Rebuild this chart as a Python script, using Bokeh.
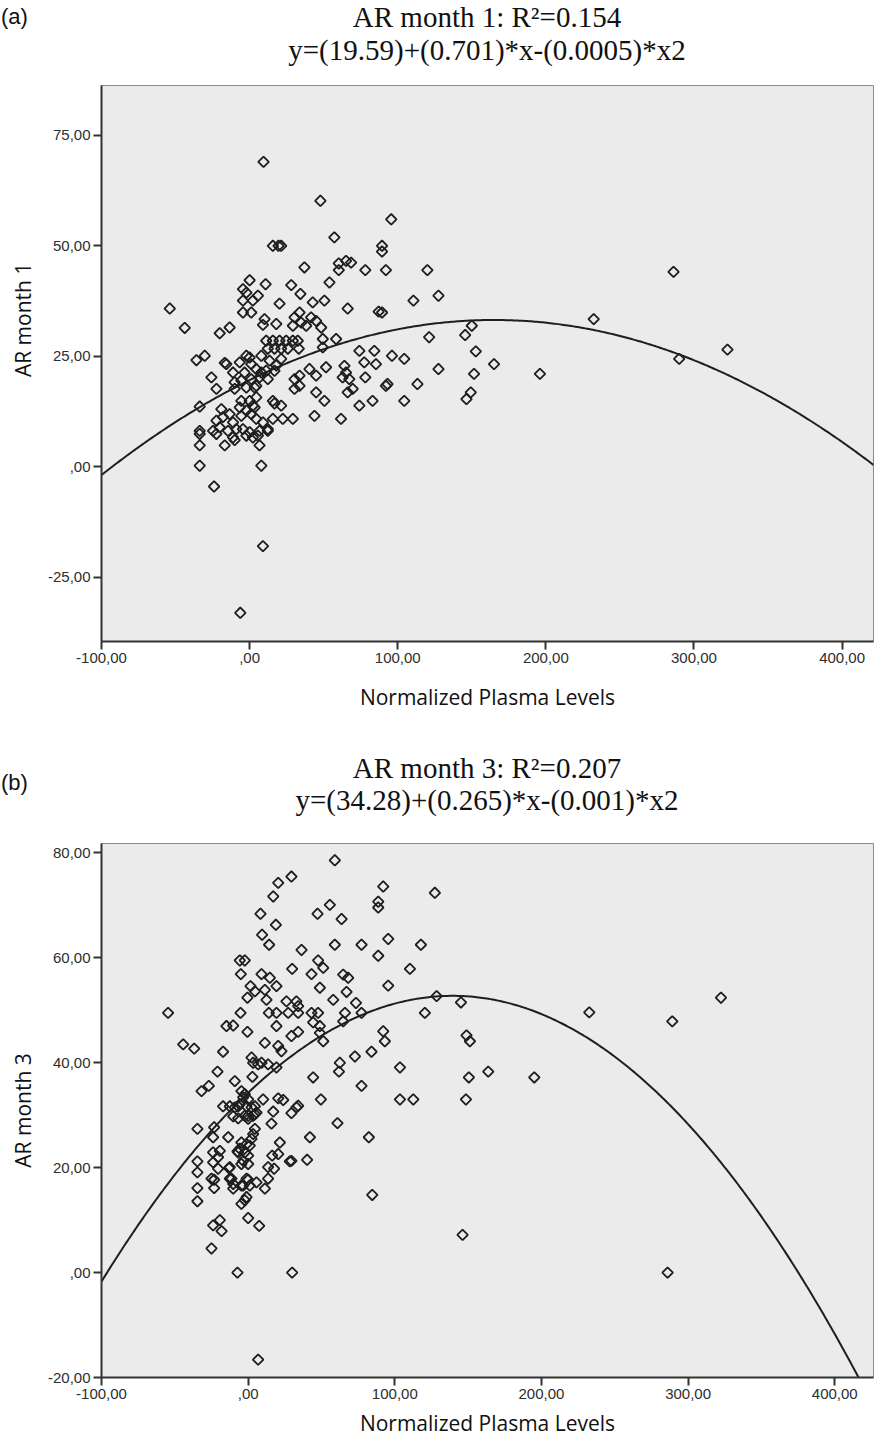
import numpy as np
from bokeh.plotting import figure
from bokeh.layouts import column
from bokeh.models import FixedTicker, Range1d, Div
from bokeh.embed import file_html
from bokeh.resources import INLINE

# ---------------- data: panel (a) AR month 1 ----------------
a_x = [9.4, 47.8, 95.6, 57.2, 15.7, 19.5, 21.3, 89.4, 89.4, 37.0, 60.2, 65.1, 68.5, 60.2, 78.1, 92.0, 120.0, 286.2,
       0.0, -4.5, -2.2, -4.5, 2.2, -4.5, 1.1, 5.6, 10.8, 28.1, 53.9, 34.3, 20.2, 42.6, 50.5, 66.2, 89.4, 110.6, 127.5,
       -53.9, -43.8, -20.2, -13.5, 10.1, 9.0, 18.0, 29.2, 33.7, 30.3, 34.8, 41.5, 44.9, 48.3, 38.2, 87.1,
       121.2, 58.4, 49.4, 49.4, 11.2, 15.7, 20.2, 24.7, 29.2, 32.5, 12.3, 16.8, 21.3, 25.8, 33.2,
       -35.9, -30.3, -15.7, 74.1, 84.2, 96.1, 104.4, 77.4, 85.3, 51.6, 40.4, 64.0, 62.8, 65.1, 67.3, 78.1, 92.0, 93.1,
       113.3, 127.5, 232.3, 145.5, 150.0, 152.7, 151.5, 165.0, 196.0, 149.3, 146.4, 290.0, 322.6,
       -33.7, -33.7, -33.7, -33.7, -33.7, -24.0, 7.9, 6.7, 9.0, -6.3, -16.8, -10.1, -22.4, 12.3, 15.7, 22.4, 29.2,
       43.8, 61.7, 16.8, 21.3, 44.9, 50.5, 66.2, 69.6, 74.1, 83.0, 104.4, 30.3, 33.7, -22.4, 2.2, 3.4, -25.8, -16.8,
       7.9, 13.5, 18.0, 21.3, 16.8, -6.7, -2.2, 0.0, 1.1, 4.5, 7.9, 11.2, 12.3, 6.7, -11.2, -10.1, -5.6, -3.4, -2.2,
       1.1, 4.5, -10.1, -19.1, -18.0, -20.2, -13.5, -11.2, -6.7, -5.6, -2.2, 1.1, 3.4, 4.5, -4.5, 0.0, 2.2, 6.7,
       -22.4, -24.7, -11.2, -2.2, 5.6, 9.0, 12.3, -9.0, -14.6, 0.0, -5.6, 4.5, 44.9, 30.3, 33.7, 15.7]
a_y = [69.0, 60.2, 56.0, 51.9, 50.0, 50.0, 50.0, 50.0, 48.7, 45.1, 46.0, 46.6, 46.2, 44.5, 44.5, 44.5, 44.5, 44.1,
       42.2, 40.2, 39.4, 37.6, 37.6, 34.9, 34.9, 38.7, 41.3, 41.1, 41.7, 39.1, 36.9, 37.2, 37.6, 35.8, 34.9, 37.6, 38.7,
       35.8, 31.4, 30.2, 31.5, 33.4, 32.1, 32.3, 31.9, 34.9, 33.8, 32.6, 33.8, 33.0, 31.5, 31.9, 35.1,
       29.3, 28.9, 28.9, 27.0, 28.5, 28.5, 28.5, 28.5, 28.5, 28.5, 26.7, 26.7, 26.7, 26.7, 26.7,
       24.1, 25.1, 23.2, 26.2, 26.2, 25.1, 24.4, 23.6, 23.2, 22.5, 22.1, 22.8, 20.2, 21.3, 19.8, 20.2, 18.3, 18.7,
       18.7, 22.1, 33.4, 29.8, 31.9, 26.1, 21.0, 23.2, 21.0, 16.8, 15.3, 24.4, 26.5,
       13.6, 8.1, 7.4, 4.8, 0.2, -4.5, 0.2, 4.8, -18.0, -33.1, 4.8, 6.0, 7.4, 8.1, 10.8, 10.8, 10.8,
       11.5, 10.8, 14.3, 13.8, 16.8, 14.9, 16.8, 17.6, 13.8, 14.9, 14.9, 17.6, 18.3, 17.6, 13.8, 17.9, 20.2, 23.5,
       25.1, 24.0, 22.9, 24.4, 21.7, 23.6, 25.1, 24.7, 23.2, 22.1, 21.3, 21.7, 19.8, 20.2, 21.3, 19.1, 19.5, 21.3, 17.9,
       19.8, 18.3, 17.6, 13.0, 11.2, 8.9, 11.9, 10.0, 13.4, 11.5, 12.7, 11.9, 13.4, 10.8, 8.5, 7.8, 6.6, 8.1,
       10.4, 8.1, 6.6, 7.0, 7.0, 10.0, 8.5, 8.5, 8.1, 14.9, 14.9, 15.7, 20.6, 19.8, 20.6, 14.9]

# ---------------- data: panel (b) AR month 3 ----------------
b_x = [59.1, 20.5, 29.5, 17.1, 92.1, 88.7, 88.7, 55.7, 47.3, 8.4, 18.9, 63.7, 9.5, 14.3, 59.1, 77.3, 95.5, 117.8,
       127.3, 36.4, -5.7, -2.3, 47.7, 51.2, 30.0, 88.7, 110.3, -5.0, 9.1, 14.8, 19.3, 43.2, 48.9, 64.8, 68.2, 67.1,
       95.5, 1.6, 4.6, 11.4, -0.5, 12.5, 26.1, 32.9, 34.1, 58.0, 73.5, 128.5, 120.5, -5.2, 14.1, 19.3, 27.3, 34.1,
       43.2, 47.7, 66.0, 77.3, -54.6, -14.8, -10.2, 19.3, 44.3, 48.9, 64.8, -0.5, 29.5, 34.1, 48.9, 51.2, 92.1, 93.2,
       -44.3, -36.8, -17.1, 11.4, 20.5, 22.7, 72.8, 84.1, 103.5, 62.5, 61.9, 2.3, 3.4, 6.8, 9.1, 13.6, 19.3,
       -20.9, -9.1, 2.9, 44.3, 77.3, -31.8, -26.8, -4.6, -2.3, -3.4, 0.0, 10.2, 20.5, 23.9, 49.6, 103.5, 112.6,
       -17.1, -12.5, -6.8, -1.1, 4.6, -5.7, -9.1, 17.1, 29.5, 32.9, 34.1, -10.2, -6.8, 0.0, 4.6, 2.3, 5.7, 3.4, 0.0,
       -2.3, 60.9, 15.9, -34.6, -23.2, -23.9, -13.6, -34.6, -34.6, -34.6, -34.6, -23.9, -19.3, -20.5, -23.9, -20.5,
       -13.0, -23.2, -23.2, -11.4, -10.2, -7.3, -5.7, -2.3, -3.4, 0.0, 0.0, 1.1, 2.3, 3.4, 4.6, -1.1, -3.4, 0.0, 5.7,
       11.4, 13.6, 17.7, 16.4, 20.5, 21.6, 28.4, 29.5, 40.2, 42.1, 82.3, 84.6, -2.3, -4.6, 0.0, 7.5, -23.9, -19.3,
       -18.1, -25.0, -7.3, 30.0, 6.8, -4.6, -6.8, -4.6, -1.1, -4.6, 1.1, 13.6, -1.1, -12.5, -12.5, -10.2,
       145.1, 148.9, 151.2, 150.5, 163.7, 195.1, 148.5, 232.6, 289.2, 322.4, 146.2, 286.0, -25.0]
b_y = [78.6, 74.3, 75.5, 71.7, 73.6, 70.7, 69.6, 70.1, 68.4, 68.4, 66.3, 67.4, 64.4, 62.5, 62.5, 62.5, 63.6, 62.5,
       72.4, 61.5, 59.5, 59.5, 59.5, 58.1, 57.9, 60.4, 57.9, 56.9, 56.9, 56.2, 54.6, 56.9, 54.3, 56.8, 56.2, 53.5,
       54.7, 54.6, 53.6, 53.9, 52.4, 52.0, 51.7, 51.7, 50.8, 52.0, 51.4, 52.7, 49.5, 49.5, 49.5, 49.5, 49.5, 49.5,
       49.5, 49.5, 49.5, 49.5, 49.5, 47.0, 47.1, 47.0, 47.7, 47.0, 47.9, 45.9, 45.1, 45.9, 45.7, 44.1, 46.0, 44.1,
       43.5, 42.7, 42.1, 43.8, 43.2, 42.2, 41.2, 42.1, 39.1, 40.0, 38.3, 41.0, 40.0, 39.7, 40.0, 39.7, 39.1,
       38.3, 36.5, 37.3, 37.2, 35.6, 34.6, 35.6, 34.6, 34.0, 33.4, 33.0, 33.0, 33.2, 32.9, 33.0, 33.0, 33.0,
       31.7, 31.7, 31.7, 31.7, 31.7, 32.1, 31.5, 30.7, 30.4, 31.5, 31.8, 29.8, 29.4, 29.9, 30.2, 31.5, 30.5, 29.9, 29.3,
       29.9, 28.5, 28.4, 27.4, 27.7, 25.8, 25.8, 21.2, 19.1, 16.1, 13.6, 22.9, 23.2, 22.0, 21.0, 19.8,
       19.9, 17.7, 16.1, 17.9, 16.0, 23.1, 23.6, 22.9, 21.3, 20.7, 22.3, 24.2, 25.5, 26.4, 27.4, 24.5, 16.6, 17.7, 17.2,
       16.0, 17.9, 19.8, 22.3, 22.6, 24.8, 21.2, 21.3, 21.5, 25.8, 25.8, 14.8, 13.8, 13.1, 10.4, 8.9, 9.0, 10.0,
       7.9, 4.6, 0.0, 0.0, -16.6, 24.8, 22.9, 20.7, 17.9, 16.6, 16.6, 20.1, 14.4, 20.1, 17.9, 16.9,
       51.5, 45.2, 44.1, 37.2, 38.3, 37.2, 33.0, 49.6, 47.9, 52.4, 7.2, 0.0, 17.9]

# quadratic fit coefficients (constant, linear, quadratic) as drawn
a_fit = [19.59, 0.165, -0.0005]
b_fit = [34.28, 0.265, -0.00095]

x_ticks = [-100, 0, 100, 200, 300, 400]
a_y_ticks = [-25, 0, 25, 50, 75]
b_y_ticks = [-20, 0, 20, 40, 60, 80]

a_title = ["AR month 1: R\u00b2=0.154", "y=(19.59)+(0.701)*x-(0.0005)*x2"]
b_title = ["AR month 3: R\u00b2=0.207", "y=(34.28)+(0.265)*x-(0.001)*x2"]
x_label = "Normalized Plasma Levels"

NB = "\u00a0"


def fmt(v):
    s = f"{abs(v):.2f}".replace(".", ",")
    if s.startswith("0,"):
        s = s[1:]
    return ("-" if v < 0 else "") + s


def header(title, letter, height, frame_left, frame_w, letter_top, t1_top, t2_top):
    serif = ("position:absolute;left:%dpx;width:%dpx;text-align:center;white-space:nowrap;"
             "font-family:'Liberation Serif',serif;font-size:29px;line-height:34px;color:#111;")
    html = (
        '<div style="position:relative;width:876px;height:%dpx;margin:0;padding:0;">' % height
        + '<div style="position:absolute;left:1px;top:%dpx;font-family:\'Liberation Sans\',sans-serif;'
          'font-size:22px;line-height:26px;color:#111;">%s</div>' % (letter_top, letter)
        + ('<div style="' + serif + 'top:%dpx;">%s</div>') % (frame_left, frame_w, t1_top, title[0])
        + ('<div style="' + serif + 'top:%dpx;">%s</div>') % (frame_left, frame_w, t2_top, title[1])
        + '</div>'
    )
    return Div(text=html, width=876, height=height, margin=0,
               styles={"margin": "0", "padding": "0", "overflow": "visible"})


def panel(xs, ys, fit, yticks, xr, yr, ylabel, width, height,
          mb_left, mb_right, mb_top, mb_bottom, xlab_standoff, ylab_standoff):
    p = figure(width=width, height=height, x_range=Range1d(*xr), y_range=Range1d(*yr),
               output_backend="svg", toolbar_location=None,
               min_border_left=mb_left, min_border_right=mb_right,
               min_border_top=mb_top, min_border_bottom=mb_bottom)
    p.background_fill_color = "#ebebeb"
    p.border_fill_color = "white"
    p.outline_line_color = "#8a8a8a"
    p.outline_line_width = 1
    p.xgrid.visible = False
    p.ygrid.visible = False

    for ax, ticks in ((p.xaxis[0], x_ticks), (p.yaxis[0], yticks)):
        ax.ticker = FixedTicker(ticks=ticks)
        ax.major_label_overrides = {t: fmt(t) for t in ticks}
        ax.minor_tick_line_color = None
        ax.major_tick_in = 0
        ax.major_tick_out = 8
        ax.major_tick_line_width = 2
        ax.major_tick_line_color = "#333333"
        ax.axis_line_width = 2
        ax.axis_line_color = "#333333"
        ax.major_label_text_font = "Liberation Sans"
        ax.major_label_text_font_size = "15px"
        ax.major_label_text_color = "#2e2e2e"
        ax.major_label_standoff = 3
        ax.axis_label_text_font = "Open Sans"
        ax.axis_label_text_font_size = "21px"
        ax.axis_label_text_font_style = "normal"
        ax.axis_label_text_color = "#111111"

    p.xaxis[0].axis_label = x_label
    p.xaxis[0].axis_label_standoff = xlab_standoff
    p.yaxis[0].axis_label = ylabel
    p.yaxis[0].axis_label_standoff = ylab_standoff

    fx = np.linspace(xr[0], xr[1], 400)
    fy = fit[0] + fit[1] * fx + fit[2] * fx ** 2
    p.line(fx, fy, line_color="#1e1e1e", line_width=2)
    p.scatter(xs, ys, marker="square", angle=np.pi / 4, size=7.5,
              fill_color=None, line_color="#1e1e1e", line_width=1.8)
    return p


hdr_a = header(a_title, "(a)", 80, 100, 774, letter_top=4, t1_top=0, t2_top=33)
pa = panel(a_x, a_y, a_fit, a_y_ticks, (-100, 421.2), (-39.6, 86.3),
           NB * 16 + "AR month 1", 876, 640, 100, 2, 5, 79, xlab_standoff=17, ylab_standoff=8)
hdr_b = header(b_title, "(b)", 118, 101, 772, letter_top=50, t1_top=31, t2_top=63)
pb = panel(b_x, b_y, b_fit, b_y_ticks, (-100, 426.4), (-20, 81.8),
           "AR month 3", 876, 603, 101, 3, 5, 64, xlab_standoff=7, ylab_standoff=8)

layout = column(hdr_a, pa, hdr_b, pb, spacing=0)
open("out.html", "w").write(file_html(layout, INLINE))
